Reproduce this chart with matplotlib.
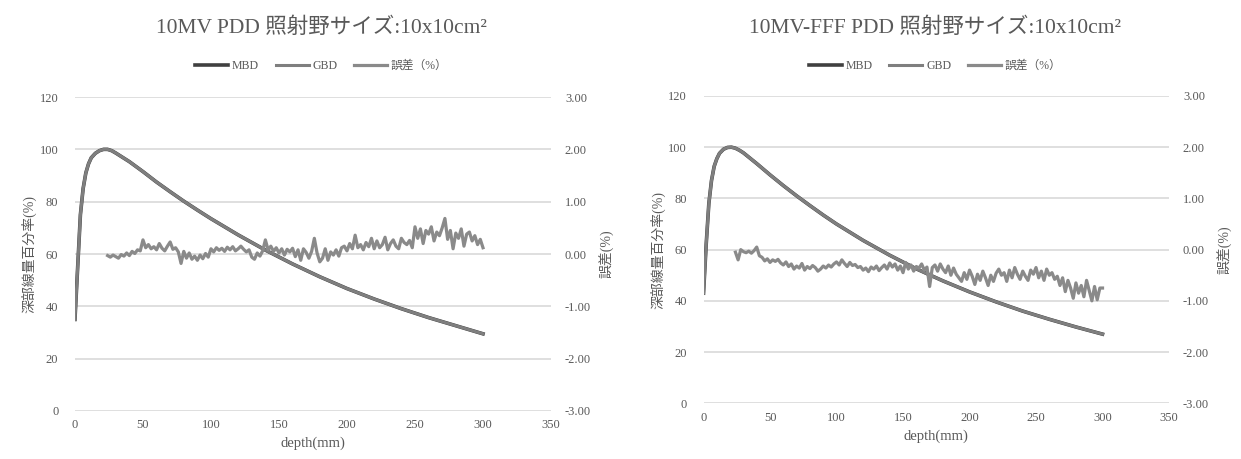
import numpy as np
import matplotlib
matplotlib.use("Agg")
import matplotlib.pyplot as plt
from matplotlib.ticker import FormatStrFormatter

plt.rcParams['font.family'] = ['Liberation Serif', 'Noto Sans CJK JP']

# PDD depth grid (mm) and values (%)
pdd_depth = [0, 2, 4, 6, 8, 10, 12, 15, 18, 21, 24, 27, 30, 40, 50, 60, 70, 80, 90,
             100, 120, 140, 160, 180, 200, 220, 240, 260, 280, 300]
pdd_10mv = [35, 55, 75, 85, 91, 94.5, 96.8, 98.5, 99.5, 100, 100, 99.5, 98.6, 95.3,
            91.5, 87.5, 83.8, 80.2, 76.8, 73.5, 67.3, 61.5, 56.2, 51.3, 46.8, 42.8,
            39.1, 35.7, 32.6, 29.5]
pdd_10fff = [43, 62, 78, 87, 92.5, 95.5, 97.6, 99.2, 99.9, 100, 99.6, 98.8, 97.8, 93.6,
             89.2, 85, 81, 77.2, 73.5, 70, 63.6, 57.8, 52.5, 47.8, 43.5, 39.6, 36.0,
             32.8, 29.8, 27.0]
# MBD and GBD overlap at this scale (difference < 1%)
gbd_10mv = pdd_10mv
gbd_10fff = pdd_10fff

# error (%) every 2 mm from 24 to 300 mm
err_depth = list(range(24, 301, 2))
err_10mv = [-0.03, -0.06, -0.02, -0.05, -0.08, -0.01, -0.04, 0.02, -0.03,
            0.05, 0.01, 0.08, 0.06,
            0.27, 0.12, 0.18, 0.10,
            0.14, 0.08, 0.20, 0.11, 0.06, 0.15, 0.23, 0.09, 0.12, 0.04,
            -0.18, 0.05, -0.08, 0.02, -0.10, -0.04, -0.12, -0.02, -0.09, 0.01, -0.06,
            0.10, 0.04, 0.12, 0.07, 0.11, 0.05, 0.13, 0.08, 0.14, 0.06, 0.10, 0.15, 0.09, 0.04, 0.08, -0.06,
            -0.10, 0.02, -0.04, 0.06,
            0.27, 0.08, 0.15, 0.05, 0.12, 0.02, 0.10, -0.02, 0.09, 0.04, 0.11,
            -0.05, 0.08, -0.12, 0.10, 0.03, -0.08, 0.05,
            0.30, 0.02, -0.15, -0.08, 0.10, -0.12, 0.04, -0.02,
            0.08, -0.04, 0.12, 0.15, 0.06, 0.20, 0.10,
            0.36, 0.12, 0.18, 0.08, 0.22, 0.14, 0.30, 0.10,
            0.25, 0.12, 0.18, 0.32, 0.08, 0.20, 0.27, 0.15, 0.10, 0.30, 0.22, 0.18, 0.26,
            0.12, 0.52, 0.30, 0.48, 0.20, 0.45, 0.38, 0.52, 0.25, 0.42, 0.35, 0.50,
            0.68, 0.28, 0.45, 0.10, 0.40, 0.30, 0.48, 0.15, 0.38,
            0.42, 0.25, 0.35, 0.18, 0.28, 0.12]
err_10fff = [-0.05, -0.20, 0.00, -0.04, -0.06, -0.03, -0.07, -0.02, 0.05,
             -0.12, -0.15, -0.22, -0.18, -0.25, -0.20, -0.23, -0.19,
             -0.26, -0.30, -0.24, -0.33, -0.28, -0.38, -0.32, -0.36, -0.27, -0.40, -0.33, -0.37,
             -0.31, -0.35, -0.42, -0.38, -0.32, -0.36, -0.30, -0.34, -0.28,
             -0.24, -0.30, -0.20, -0.27, -0.33, -0.25, -0.31, -0.29, -0.35,
             -0.33, -0.40, -0.36, -0.43, -0.34, -0.38, -0.32, -0.41, -0.35, -0.30, -0.38, -0.26,
             -0.34, -0.28, -0.40, -0.32, -0.45, -0.25, -0.38, -0.30, -0.42, -0.33, -0.36, -0.28, -0.40, -0.34,
             -0.72, -0.35, -0.30, -0.42, -0.28, -0.38, -0.45, -0.32, -0.50, -0.36, -0.48,
             -0.55, -0.62, -0.45, -0.58, -0.40, -0.52, -0.68, -0.48, -0.60, -0.42, -0.55, -0.70, -0.50, -0.62, -0.46,
             -0.38, -0.50, -0.45, -0.62, -0.40, -0.55, -0.35, -0.48, -0.58, -0.42, -0.52, -0.60,
             -0.40, -0.48, -0.35, -0.55, -0.42, -0.60, -0.38, -0.50, -0.45, -0.58, -0.52,
             -0.70, -0.55, -0.82, -0.60, -0.75, -0.95, -0.65, -0.85, -0.70, -0.92, -0.60, -0.80, -1.00,
             -0.72, -0.98, -0.75, -0.75]

titles = ["10MV PDD 照射野サイズ:10x10cm²", "10MV-FFF PDD 照射野サイズ:10x10cm²"]

TXT = '#595959'
GRID = '#d9d9d9'
C_MBD = '#404040'
C_GBD = '#7f7f7f'
C_ERR = '#8a8a8a'


def draw_panel(fig, rect, title, title_x, mbd, gbd, err):
    ax = fig.add_axes(rect)
    ax2 = ax.twinx()
    l1, = ax.plot(pdd_depth, mbd, color=C_MBD, lw=2.6, label='MBD')
    l2, = ax.plot(pdd_depth, gbd, color=C_GBD, lw=2.2, label='GBD')
    l3, = ax2.plot(err_depth, err, color=C_ERR, lw=2.3, label='誤差（%）')

    ax.set_xlim(0, 350)
    ax.set_ylim(0, 120)
    ax.set_xticks(range(0, 351, 50))
    ax.set_yticks(range(0, 121, 20))
    ax2.set_ylim(-3, 3)
    ax2.set_yticks(np.arange(-3, 3.01, 1))
    ax2.yaxis.set_major_formatter(FormatStrFormatter('%.2f'))
    ax.grid(axis='y', color=GRID, lw=1.2)
    ax.set_axisbelow(True)
    for a in (ax, ax2):
        for s in a.spines.values():
            s.set_visible(False)
        a.tick_params(length=0, colors=TXT, labelsize=9)
    ax.tick_params(axis='y', pad=12)
    ax.tick_params(axis='x', pad=6)
    ax2.tick_params(axis='y', pad=10)

    ax.set_xlabel('depth(mm)', color=TXT, fontsize=10.5, labelpad=4)
    ax.set_ylabel('深部線量百分率(%)', color=TXT, fontsize=10, labelpad=2)
    ax2.set_ylabel('誤差(%)', color=TXT, fontsize=10, labelpad=6)

    fig.text(title_x, 0.94, title, ha='center', va='center', color=TXT, fontsize=15.5)
    ax.legend(handles=[l1, l2, l3], loc='center', ncol=3, frameon=False,
              bbox_to_anchor=(title_x, 0.856), bbox_transform=fig.transFigure,
              fontsize=8.5, handlelength=2.8, handletextpad=0.3, columnspacing=1.4,
              labelcolor=TXT)
    return ax


fig = plt.figure(figsize=(12.41, 4.59), dpi=100)
draw_panel(fig, [0.0604, 0.1046, 0.3836, 0.684], titles[0], 0.2589, pdd_10mv, gbd_10mv, err_10mv)
draw_panel(fig, [0.5669, 0.1214, 0.3751, 0.6695], titles[1], 0.7535, pdd_10fff, gbd_10fff, err_10fff)
fig.savefig('out.png', dpi=100)
